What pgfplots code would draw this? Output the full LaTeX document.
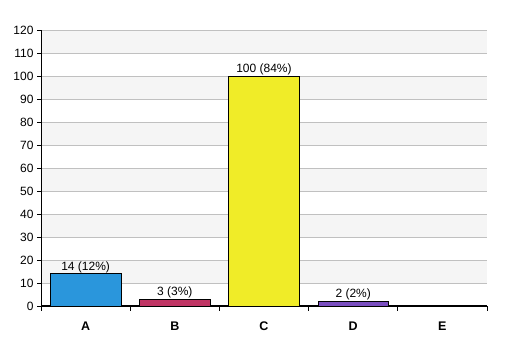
\documentclass[border=0pt]{standalone}
\usepackage{fontspec}
\setmainfont{Liberation Sans}
\usepackage{pgfplots}
\pgfplotsset{compat=1.18}
\usetikzlibrary{calc}
\definecolor{cA}{RGB}{42,150,220}
\definecolor{cB}{RGB}{192,52,100}
\definecolor{cC}{RGB}{240,236,40}
\definecolor{cD}{RGB}{122,78,192}
\definecolor{band}{RGB}{245,245,245}
\definecolor{gridc}{RGB}{192,192,192}
\begin{document}
\begin{tikzpicture}
\begin{axis}[
  set layers,
  scale only axis,
  width=446pt, height=276pt,
  xmin=-0.5, xmax=4.5, ymin=0, ymax=120,
  axis x line=bottom, axis y line=left,
  axis line style={-},
  x axis line style={line width=1.8pt},
  ytick={0,10,...,120},
  xtick={0,1,2,3,4},
  xticklabels={A,B,C,D,E},
  xticklabel style={font=\fontsize{12.5}{14}\selectfont\bfseries, yshift=-8pt},
  yticklabel style={font=\fontsize{12}{13}\selectfont},
  /pgf/number format/assume math mode=true,
  major x tick style={draw=none},
  minor xtick={-0.5,0.5,1.5,2.5,3.5,4.5},
  minor x tick style={black, line width=0.7pt},
  minor tick length=5pt,
  major tick length=4pt,
  tick align=outside,
  y tick style={black, line width=0.7pt},
  ymajorgrids, grid style={gridc, line width=0.7pt},
  clip=false,
  ybar, bar width=0.79, bar shift=0pt,
  nodes near coords,
  point meta=explicit symbolic,
  every node near coord/.style={font=\fontsize{12}{13}\selectfont, black, inner sep=0.8pt},
]
\pgfonlayer{axis background}
\pgfplotsinvokeforeach{10,30,50,70,90,110}{
  \fill[band] (axis cs:-0.5,#1) rectangle (axis cs:4.5,#1+10);
}
\endpgfonlayer
\addplot[fill=cA, draw=black, line width=0.6pt] coordinates {(0,14) [14 (12\%)]};
\addplot[fill=cB, draw=black, line width=0.6pt] coordinates {(1,3) [3 (3\%)]};
\addplot[fill=cC, draw=black, line width=0.6pt] coordinates {(2,100) [100 (84\%)]};
\addplot[fill=cD, draw=black, line width=0.6pt] coordinates {(3,2) [2 (2\%)]};
\coordinate (bl) at (rel axis cs:0,0);
\coordinate (tr) at (rel axis cs:1,1);
\end{axis}
\path ($(bl)+(-41pt,-50pt)$) rectangle ($(tr)+(20pt,30pt)$);
\end{tikzpicture}
\end{document}
